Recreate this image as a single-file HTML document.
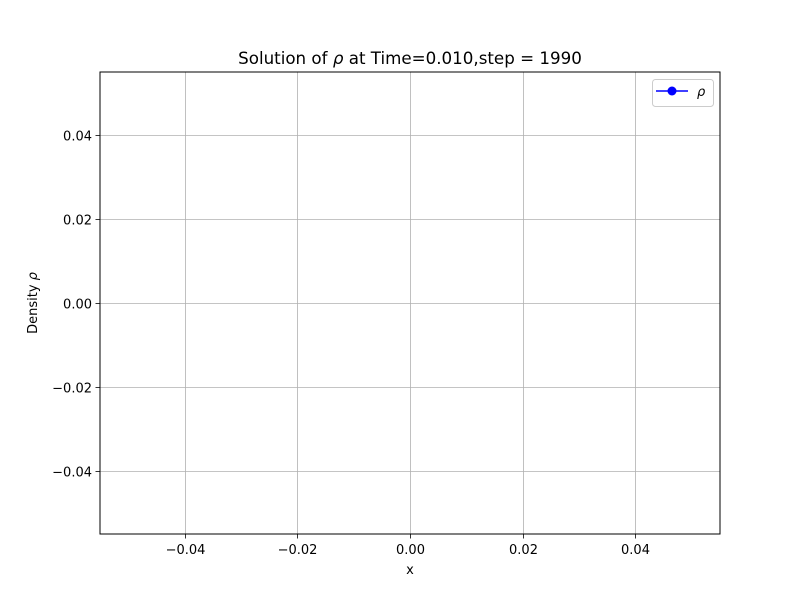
<!DOCTYPE html>
<html>
<head>
<meta charset="utf-8">
<style>
  html,body{margin:0;padding:0;background:#fff;}
  svg{display:block;font-family:"DejaVu Sans","Liberation Sans",sans-serif;}
</style>
</head>
<body>
<svg id="chart" width="800" height="600" viewBox="0 0 800 600" xmlns="http://www.w3.org/2000/svg">
  <rect x="0" y="0" width="800" height="600" fill="#fff"/>
  <g id="grid"></g>
  <g id="series"></g>
  <rect x="100" y="72" width="620" height="462" fill="none" stroke="#000" stroke-width="1"/>
  <g id="xticks"></g>
  <g id="yticks"></g>
  <text x="410" y="64" text-anchor="middle" font-size="16.7">Solution of <tspan font-style="italic">ρ</tspan> at Time=0.010,step = 1990</text>
  <text x="410" y="574" text-anchor="middle" font-size="13">x</text>
  <text transform="translate(37,303) rotate(-90)" text-anchor="middle" font-size="13">Density <tspan font-style="italic">ρ</tspan></text>
  <g>
    <rect x="652.5" y="79.5" width="61" height="27" rx="3" fill="#fff" fill-opacity="0.8" stroke="#ccc"/>
    <line x1="656" y1="91" x2="688" y2="91" stroke="#0000ff" stroke-width="1.5"/>
    <circle cx="672" cy="91" r="4.5" fill="#0000ff"/>
    <text x="697" y="96" font-size="13" font-style="italic">ρ</text>
  </g>
</svg>
<script>
const xTicks = [-0.04, -0.02, 0.00, 0.02, 0.04];
const xTickLabels = ["\u22120.04", "\u22120.02", "0.00", "0.02", "0.04"];
const yTicks = [0.04, 0.02, 0.00, -0.02, -0.04];
const yTickLabels = ["0.04", "0.02", "0.00", "\u22120.02", "\u22120.04"];
const xData = [];
const yData = [];

const NS = "http://www.w3.org/2000/svg";
const X0 = 100, X1 = 720, Y0 = 72, Y1 = 534;
const xMin = -0.055, xMax = 0.055, yMin = -0.055, yMax = 0.055;
function xs(v){ return X0 + (v - xMin) / (xMax - xMin) * (X1 - X0); }
function ys(v){ return Y1 - (v - yMin) / (yMax - yMin) * (Y1 - Y0); }
function mk(tag, attrs){ const e = document.createElementNS(NS, tag); for (const k in attrs) e.setAttribute(k, attrs[k]); return e; }

const grid = document.getElementById('grid');
const xg = document.getElementById('xticks');
const yg = document.getElementById('yticks');

xTicks.forEach((t, i) => {
  const x = Math.round(xs(t)) + 0.5;
  const gl = mk('line', {x1: x, y1: Y0, x2: x, y2: Y1, stroke: '#b0b0b0', 'stroke-width': 0.8});
  
  
  grid.appendChild(gl);
  const tk = mk('line', {x1: x, y1: Y1, x2: x, y2: Y1 + 4.5, stroke: '#000', 'stroke-width': 0.8});
  
  
  xg.appendChild(tk);
  const lb = mk('text', {x: x, y: Y1 + 20, 'text-anchor': 'middle', 'font-size': 13});
  lb.textContent = xTickLabels[i];
  
  
  xg.appendChild(lb);
});

yTicks.forEach((t, i) => {
  const y = Math.round(ys(t)) + 0.5;
  const gl = mk('line', {x1: X0, y1: y, x2: X1, y2: y, stroke: '#b0b0b0', 'stroke-width': 0.8});
  
  
  grid.appendChild(gl);
  const tk = mk('line', {x1: X0 - 4.5, y1: y, x2: X0, y2: y, stroke: '#000', 'stroke-width': 0.8});
  
  
  yg.appendChild(tk);
  const lb = mk('text', {x: X0 - 8, y: y + 5, 'text-anchor': 'end', 'font-size': 13});
  lb.textContent = yTickLabels[i];
  
  
  yg.appendChild(lb);
});

const sg = document.getElementById('series');
if (xData.length) {
  const pts = xData.map((v, i) => xs(v) + ',' + ys(yData[i])).join(' ');
  const pl = mk('polyline', {points: pts, fill: 'none', stroke: '#0000ff', 'stroke-width': 1.5});
  
  
  sg.appendChild(pl);
  xData.forEach((v, i) => {
    const c = mk('circle', {cx: xs(v), cy: ys(yData[i]), r: 4.5, fill: '#0000ff'});
    
    
    sg.appendChild(c);
  });
}
</script>
</body>
</html>
